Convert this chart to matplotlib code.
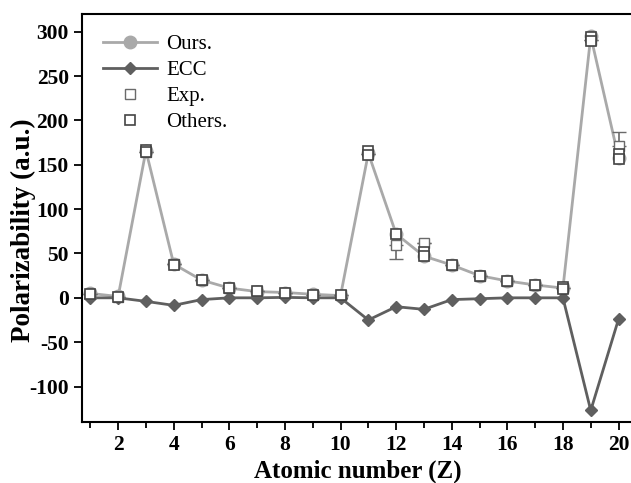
import matplotlib.pyplot as plt
from matplotlib.lines import Line2D
import numpy as np

plt.rcParams['font.family'] = ['Liberation Serif', 'DejaVu Serif']
plt.rcParams['font.weight'] = 'bold'
plt.rcParams['axes.unicode_minus'] = False

z = np.arange(1, 21)
ours = [5, 1.5, 166, 38, 20, 11, 7, 6, 4, 2.5,
        163, 72, 47, 37, 25, 19, 14.5, 11, 295, 158]
ecc = [0, 0, -4, -8.5, -2, 0, 0, 0.5, 0, 0,
       -25, -10, -13, -2, -1, 0, 0, 0, -127, -24]

exp_z = [1, 2, 3, 4, 5, 6, 7, 8, 9, 10, 11, 12, 13, 14, 15, 16, 17, 18, 19, 20]
exp_val = [4.5, 1.4, 164, 37.7, 20.5, 11.3, 7.4, 5.3, 3.7, 2.7,
           162.7, 59, 62, 37.3, 25, 19.4, 14.6, 11.1, 290.8, 171]
exp_err_lo = [0, 0, 0, 0, 0, 0, 0, 0, 0, 0,
              0, 15, 0, 0, 0, 0, 0, 0, 0, 0]
exp_err_hi = [0, 0, 0, 0, 0, 0, 0, 0, 0, 0,
              0, 0, 0, 0, 0, 0, 0, 0, 0, 16]

oth_z = [1, 2, 3, 3, 4, 5, 6, 7, 8, 9, 10, 11, 11, 12, 13, 13, 14, 15, 16, 17, 18, 18, 19, 19, 20, 20]
oth_val = [4.5, 1.4, 167, 164, 37.5, 20.5, 11, 7.5, 5.5, 3.7, 2.7, 165, 161, 72, 52, 47,
           37, 25, 19.5, 14.5, 12, 9.5, 294, 289, 162, 156]

fig = plt.figure(figsize=(6.31, 4.83), dpi=100)
ax = fig.add_axes([82 / 631, 61 / 483, 551 / 631, 408 / 483])

ax.plot(z, ours, '-o', color='#a9a9a9', lw=2, ms=9, zorder=2)
ax.plot(z, ecc, '-D', color='#5f5f5f', lw=2, ms=6, zorder=3)
ax.errorbar(exp_z, exp_val, yerr=[exp_err_lo, exp_err_hi], fmt='s', mfc='white',
            mec='#6a6a6a', ecolor='#6a6a6a', ms=7, mew=1, capsize=5, elinewidth=1.2,
            zorder=4)
ax.plot(oth_z, oth_val, 's', mfc='white', mec='#444444', ms=7, mew=1.2, zorder=5)

handles = [
    Line2D([], [], color='#a9a9a9', lw=2, marker='o', ms=9),
    Line2D([], [], color='#5f5f5f', lw=2, marker='D', ms=6),
    Line2D([], [], ls='none', marker='s', mfc='white', mec='#6a6a6a', ms=7, mew=1),
    Line2D([], [], ls='none', marker='s', mfc='white', mec='#444444', ms=7, mew=1.2),
]
ax.legend(handles, ['Ours.', 'ECC', 'Exp.', 'Others.'], loc='upper left', frameon=False,
          handlelength=2.6, borderaxespad=0.6, labelspacing=0.3, handletextpad=0.45,
          prop={'weight': 'normal', 'size': 15})

ax.set_xlim(0.7, 20.52)
ax.set_ylim(-140, 320)
ax.set_xticks(range(2, 21, 2))
ax.set_xticks(range(1, 21, 2), minor=True)
ax.set_yticks(range(-100, 301, 50))
ax.tick_params(axis='both', direction='out', labelsize=15.5, width=1.3, length=6)
ax.tick_params(axis='x', which='minor', direction='out', width=1.3, length=4)
for lab in ax.get_xticklabels() + ax.get_yticklabels():
    lab.set_fontweight('bold')
for s in ax.spines.values():
    s.set_linewidth(1.5)

ax.set_xlabel('Atomic number (Z)', fontsize=18, fontweight='bold')
ax.set_ylabel('Polarizability (a.u.)', fontsize=19.5, fontweight='bold')
ax.xaxis.set_label_coords(0.5, -0.093)
ax.yaxis.set_label_coords(-0.084, 0.47)

fig.savefig('out.png', dpi=100)
